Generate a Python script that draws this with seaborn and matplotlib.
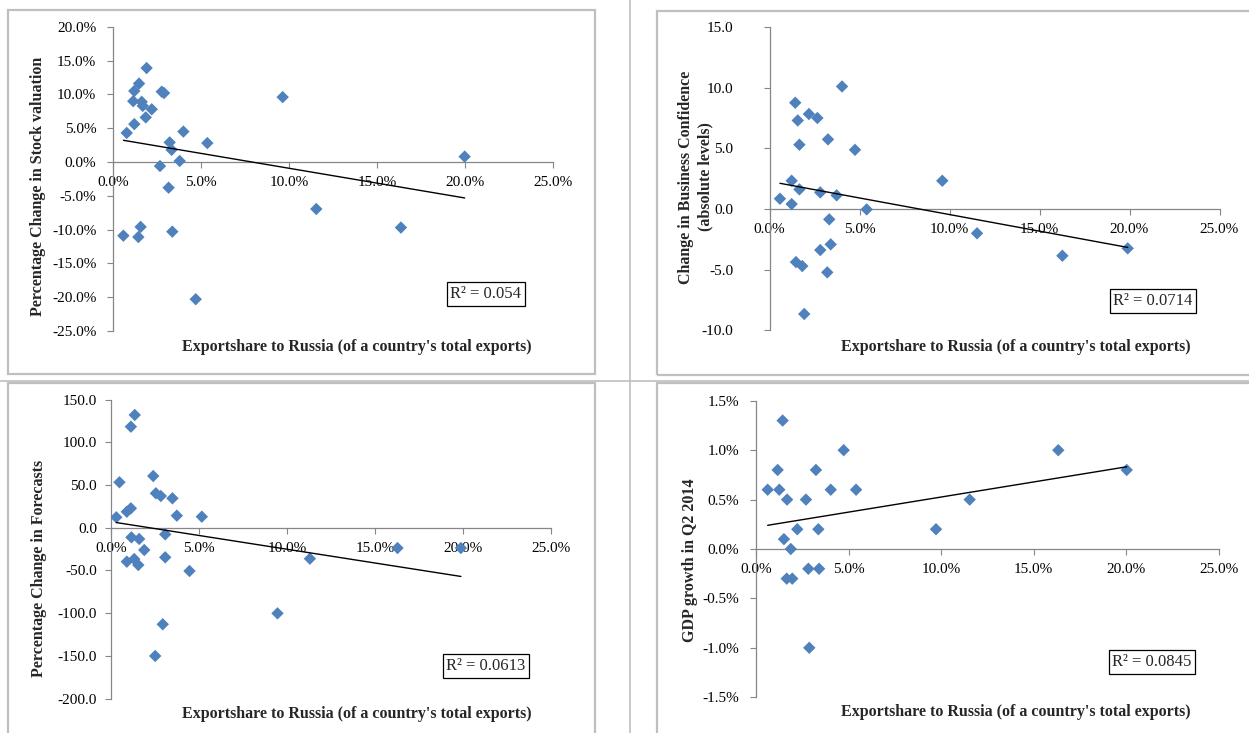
import numpy as np
import pandas as pd
import seaborn as sns
import matplotlib.pyplot as plt
from matplotlib.ticker import FuncFormatter, MultipleLocator
from matplotlib.patches import Rectangle
from matplotlib.lines import Line2D

sns.set_theme(style='white')
plt.rcParams['font.family'] = ['Liberation Serif', 'DejaVu Serif']

# ---------------- data (export share to Russia in % of total exports) -------------
stock_x = [1.91, 1.48, 1.21, 2.77, 2.90, 1.15, 1.63, 1.69, 2.20, 1.86, 1.21, 0.78, 4.00, 3.22,
           3.33, 5.36, 3.79, 2.67, 3.16, 9.64, 19.98, 11.55, 16.36, 0.59, 1.44, 1.57, 3.37, 4.70]
stock_y = [13.9, 11.6, 10.5, 10.4, 10.2, 9.0, 8.9, 8.3, 7.8, 6.6, 5.6, 4.3, 4.5, 2.9,
           1.8, 2.8, 0.15, -0.6, -3.8, 9.6, 0.8, -6.95, -9.7, -10.9, -11.1, -9.6, -10.3, -20.3]

conf_x = [4.03, 1.43, 2.19, 2.66, 1.57, 3.25, 1.66, 4.75, 1.23, 9.60, 1.66, 2.82, 3.73, 0.58,
          1.23, 5.40, 3.32, 11.53, 3.40, 2.82, 19.90, 16.27, 1.47, 1.82, 3.21, 1.93]
conf_y = [10.1, 8.76, 7.83, 7.5, 7.3, 5.74, 5.3, 4.88, 2.33, 2.33, 1.62, 1.37, 1.13, 0.85,
          0.41, -0.03, -0.85, -2.0, -2.91, -3.38, -3.24, -3.85, -4.37, -4.7, -5.22, -8.65]

fc_x = [1.35, 1.13, 2.40, 0.48, 2.55, 2.83, 3.49, 1.13, 0.90, 3.74, 5.16, 0.30, 3.08, 1.16,
        1.60, 1.89, 16.28, 19.88, 0.90, 1.32, 1.55, 3.08, 11.30, 4.46, 9.46, 2.94, 2.51]
fc_y = [132, 118.3, 60.5, 53.2, 40.3, 37.1, 34.4, 22.7, 18.7, 14.1, 12.9, 12.2, -7.8, -11.3,
        -13.2, -26.1, -23.8, -23.8, -39.8, -36.7, -43.7, -34.7, -36.3, -50.7, -100.3, -113.1, -150.2]

gdp_x = [1.44, 4.74, 16.34, 1.17, 3.24, 20.04, 0.63, 1.26, 4.04, 5.41, 1.68, 2.70, 11.55, 2.23,
         3.37, 9.73, 1.51, 1.88, 2.83, 3.41, 1.66, 1.96, 2.88]
gdp_y = [1.3, 1.0, 1.0, 0.8, 0.8, 0.8, 0.6, 0.6, 0.6, 0.6, 0.5, 0.5, 0.5, 0.2,
         0.2, 0.2, 0.1, 0.0, -0.2, -0.2, -0.3, -0.3, -1.0]

x_label = "Exportshare to Russia (of a country's total exports)"
y_labels = [["Percentage Change in Stock valuation"],
            ["Change in Business Confidence", "(absolute levels)"],
            ["Percentage Change in Forecasts"],
            ["GDP growth in Q2 2014"]]
r2_labels = ["R² = 0.054", "R² = 0.0714", "R² = 0.0613", "R² = 0.0845"]

# ---------------- layout ---------------------------------------------------------
W, H = 1249, 733
fig = plt.figure(figsize=(W / 100, H / 100), dpi=100)


def rect(l, t, r, b):
    return [l / W, 1 - b / H, (r - l) / W, (b - t) / H]


def fx(px):
    return px / W


def fy(py):
    return 1 - py / H


BLUE = '#4F81BD'
AXC = '#868686'
BOXC = '#BFBFBF'

# chart-area frames and separators
for (l, t, r, b) in [(8, 10, 595, 374), (8, 383, 595, 745), (657, 11, 1262, 375), (657, 383, 1262, 745)]:
    fig.add_artist(Rectangle((fx(l), fy(b)), (r - l) / W, (b - t) / H, transform=fig.transFigure,
                             fill=False, edgecolor=BOXC, lw=1.6, clip_on=False))
fig.add_artist(Line2D([fx(629.5), fx(629.5)], [0, 1], transform=fig.transFigure, color=BOXC, lw=1.2))
fig.add_artist(Line2D([0, 1], [fy(381), fy(381)], transform=fig.transFigure, color=BOXC, lw=1.2))

panels = [
    dict(x=stock_x, y=stock_y, rect=(113, 26.8, 553, 331), ylim=(-25, 20), step=5, fmt='{:.1f}%', ypad=8,
         xlab=(357, 347), ylab=[(38, 186)], r2=(486, 294)),
    dict(x=conf_x, y=conf_y, rect=(769.5, 27, 1219.5, 330.4), ylim=(-10, 15), step=5, fmt='{:.1f}', ypad=22,
         xlab=(1016, 347), ylab=[(686, 177), (705, 177)], r2=(1153, 301)),
    dict(x=fc_x, y=fc_y, rect=(111, 399.6, 551, 698.5), ylim=(-200, 150), step=50, fmt='{:.1f}', ypad=6,
         xlab=(357, 714), ylab=[(39, 568)], r2=(486, 666)),
    dict(x=gdp_x, y=gdp_y, rect=(756, 400.8, 1218.5, 697.2), ylim=(-1.5, 1.5), step=0.5, fmt='{:.1f}%', ypad=8,
         xlab=(1016, 712), ylab=[(690, 560)], r2=(1152, 662)),
]

for i, p in enumerate(panels):
    ax = fig.add_axes(rect(*p['rect']))
    df = pd.DataFrame({'x': p['x'], 'y': p['y']})
    sns.regplot(data=df, x='x', y='y', ax=ax, ci=None, marker='D', color=BLUE,
                scatter_kws=dict(s=40, edgecolor='none', alpha=1, zorder=3),
                line_kws=dict(color='black', lw=1.0, zorder=4))
    ax.set_xlim(0, 25)
    ax.set_ylim(*p['ylim'])
    ax.set_xlabel('')
    ax.set_ylabel('')
    ax.patch.set_alpha(0)
    for s in ['top', 'right']:
        ax.spines[s].set_visible(False)
    ax.spines['left'].set_color(AXC)
    ax.spines['bottom'].set_color(AXC)
    ax.spines['left'].set_linewidth(0.9)
    ax.spines['bottom'].set_linewidth(0.9)
    ax.spines['bottom'].set_position(('data', 0))
    ax.xaxis.set_major_locator(MultipleLocator(5))
    ax.yaxis.set_major_locator(MultipleLocator(p['step']))
    ax.xaxis.set_major_formatter(FuncFormatter(lambda v, pos: '{:.1f}%'.format(v)))
    f = p['fmt']
    ax.yaxis.set_major_formatter(FuncFormatter(lambda v, pos, f=f: f.format(v)))
    ax.tick_params(axis='x', direction='out', length=4, width=0.8, color=AXC, pad=6,
                   labelsize=11, labelcolor='black', bottom=True)
    ax.tick_params(axis='y', direction='out', length=4, width=0.8, color=AXC, pad=p['ypad'],
                   labelsize=11, labelcolor='black', left=True)
    ax.grid(False)

    fig.text(fx(p['xlab'][0]), fy(p['xlab'][1]), x_label, ha='center', va='center',
             fontsize=11.5, fontweight='bold')
    for (lx, ly), txt in zip(p['ylab'], y_labels[i]):
        fig.text(fx(lx), fy(ly), txt, ha='center', va='center',
                 rotation=90, fontsize=11.5, fontweight='bold')
    fig.text(fx(p['r2'][0]), fy(p['r2'][1]), r2_labels[i], ha='center', va='center', fontsize=12,
             bbox=dict(boxstyle='square,pad=0.22', facecolor='white', edgecolor='black', lw=0.9))

fig.savefig('out.png', dpi=100)
